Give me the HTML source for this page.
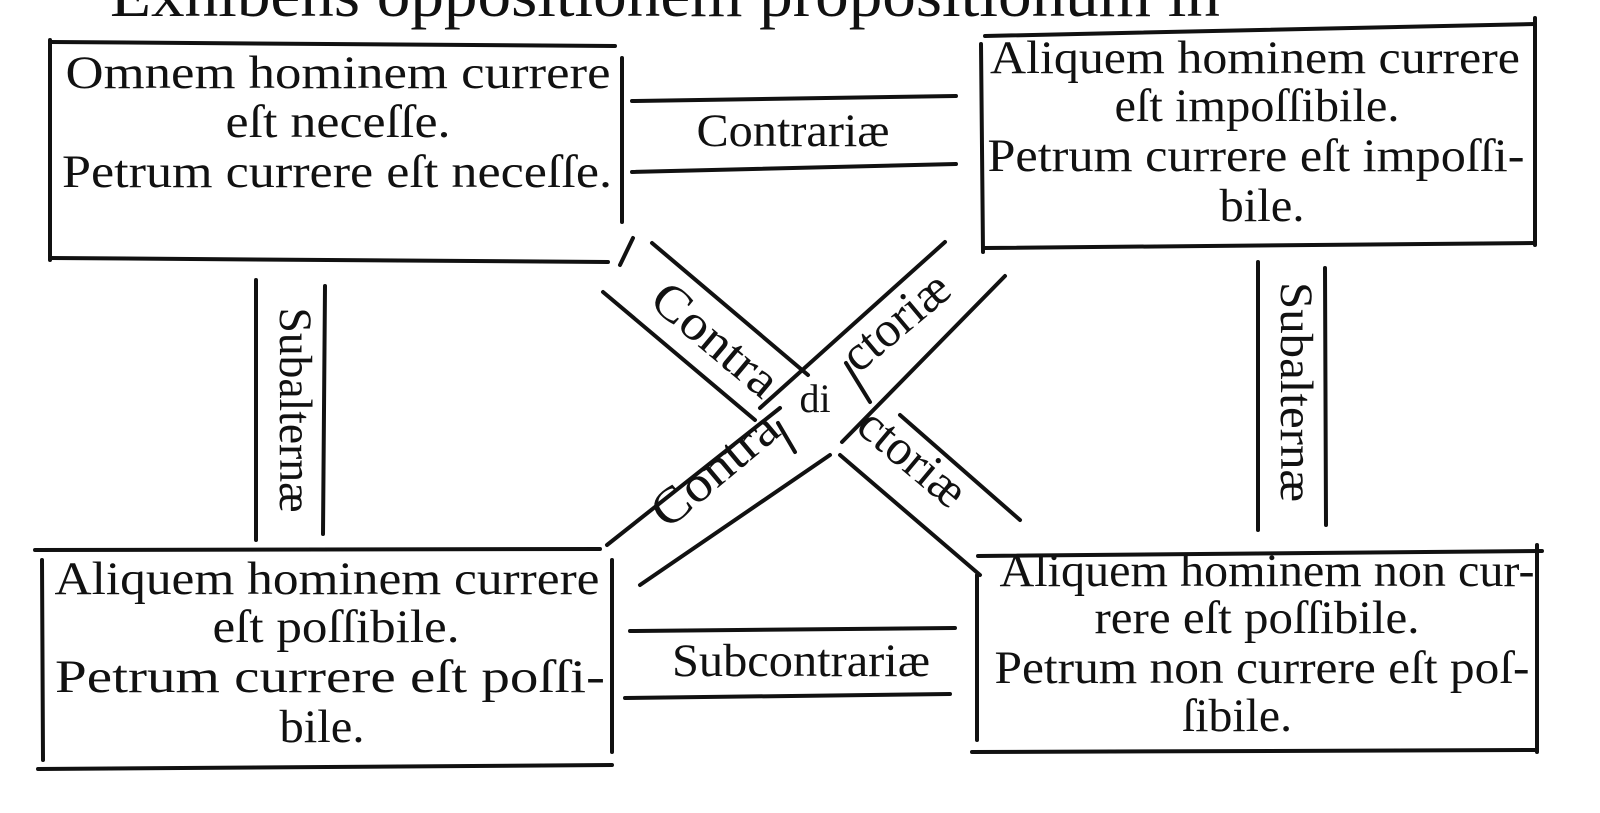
<!DOCTYPE html>
<html><head><meta charset="utf-8"><style>
html,body{margin:0;padding:0;background:#fff;}
svg{display:block;}
text{font-family:"Liberation Serif","DejaVu Serif",serif;fill:#111;}
</style></head><body>
<svg width="1600" height="813" viewBox="0 0 1600 813" xmlns="http://www.w3.org/2000/svg">
<g stroke="#111" stroke-width="4" fill="none" stroke-linecap="round">
<line x1="50" y1="42" x2="615" y2="46"/><line x1="50" y1="40" x2="50" y2="260"/>
<line x1="622" y1="58" x2="622" y2="222"/><line x1="50" y1="258" x2="608" y2="262"/>
<line x1="985" y1="36" x2="1535" y2="24"/><line x1="981" y1="44" x2="983" y2="252"/>
<line x1="1535" y1="18" x2="1535" y2="245"/><line x1="985" y1="248" x2="1535" y2="243"/>
<line x1="35" y1="550" x2="600" y2="549"/><line x1="42" y1="560" x2="43" y2="760"/>
<line x1="612" y1="560" x2="612" y2="752"/><line x1="38" y1="769" x2="612" y2="765"/>
<line x1="978" y1="556" x2="1542" y2="551"/><line x1="977" y1="575" x2="977" y2="740"/>
<line x1="1537" y1="545" x2="1537" y2="752"/><line x1="972" y1="752" x2="1535" y2="750"/>
<line x1="632" y1="101" x2="956" y2="96"/><line x1="632" y1="172" x2="956" y2="164"/>
<line x1="630" y1="631" x2="955" y2="628"/><line x1="625" y1="698" x2="950" y2="694"/>
<line x1="256" y1="280" x2="256" y2="540"/><line x1="325" y1="286" x2="323" y2="534"/>
<line x1="1258" y1="262" x2="1258" y2="530"/><line x1="1325" y1="268" x2="1326" y2="525"/>
<line x1="603" y1="292" x2="755" y2="420"/><line x1="840" y1="455" x2="980" y2="575"/>
<line x1="652" y1="243" x2="808" y2="375"/><line x1="900" y1="415" x2="1020" y2="520"/>
<line x1="620" y1="265" x2="633" y2="238"/>
<line x1="607" y1="545" x2="780" y2="408"/><line x1="760" y1="408" x2="945" y2="242"/>
<line x1="640" y1="585" x2="830" y2="455"/><line x1="842" y1="442" x2="1005" y2="276"/>
<line x1="778" y1="423" x2="795" y2="452"/><line x1="846" y1="363" x2="870" y2="402"/>
</g>
<text x="110" y="16" font-size="64" textLength="1110" lengthAdjust="spacingAndGlyphs">Exhibens oppositionem propositionum in</text>
<g font-size="47" text-anchor="middle" lengthAdjust="spacingAndGlyphs">
<text x="338" y="88" textLength="545" lengthAdjust="spacingAndGlyphs">Omnem hominem currere</text>
<text x="338" y="137" textLength="225" lengthAdjust="spacingAndGlyphs">eſt neceſſe.</text>
<text x="337" y="187" textLength="550" lengthAdjust="spacingAndGlyphs">Petrum currere eſt neceſſe.</text>
<text x="1255" y="73" textLength="530" lengthAdjust="spacingAndGlyphs">Aliquem hominem currere</text>
<text x="1257" y="121" textLength="285" lengthAdjust="spacingAndGlyphs">eſt impoſſibile.</text>
<text x="1256" y="171" textLength="537" lengthAdjust="spacingAndGlyphs">Petrum currere eſt impoſſi-</text>
<text x="1262" y="221" textLength="85" lengthAdjust="spacingAndGlyphs">bile.</text>
<text x="327" y="594" textLength="545" lengthAdjust="spacingAndGlyphs">Aliquem hominem currere</text>
<text x="336" y="642" textLength="247" lengthAdjust="spacingAndGlyphs">eſt poſſibile.</text>
<text x="330" y="692" textLength="550" lengthAdjust="spacingAndGlyphs">Petrum  currere eſt poſſi-</text>
<text x="322" y="742" textLength="85" lengthAdjust="spacingAndGlyphs">bile.</text>
<text x="1267" y="586" textLength="535" lengthAdjust="spacingAndGlyphs">Aliquem hominem non cur-</text>
<text x="1257" y="633" textLength="325" lengthAdjust="spacingAndGlyphs">rere eſt poſſibile.</text>
<text x="1262" y="683" textLength="535" lengthAdjust="spacingAndGlyphs">Petrum non currere eſt poſ-</text>
<text x="1237" y="731" textLength="110" lengthAdjust="spacingAndGlyphs">ſibile.</text>
<text x="793" y="146" textLength="193" lengthAdjust="spacingAndGlyphs">Contrariæ</text>
<text x="801" y="676" textLength="258" lengthAdjust="spacingAndGlyphs">Subcontrariæ</text>
<text transform="translate(280,410) rotate(90)" textLength="205" lengthAdjust="spacingAndGlyphs">Subalternæ</text>
<text transform="translate(1281,392) rotate(90)" textLength="220" lengthAdjust="spacingAndGlyphs">Subalternæ</text>
<text transform="translate(705,352) rotate(40)" font-size="50" textLength="150" lengthAdjust="spacingAndGlyphs">Contra</text>
<text transform="translate(902,470) rotate(40)" font-size="50" textLength="125" lengthAdjust="spacingAndGlyphs">ctoriæ</text>
<text transform="translate(725,482) rotate(-40)" font-size="50" textLength="150" lengthAdjust="spacingAndGlyphs">Contra</text>
<text transform="translate(906,334) rotate(-40)" font-size="50" textLength="125" lengthAdjust="spacingAndGlyphs">ctoriæ</text>
<text x="815" y="412" font-size="40">di</text>
</g>
</svg>
</body></html>
